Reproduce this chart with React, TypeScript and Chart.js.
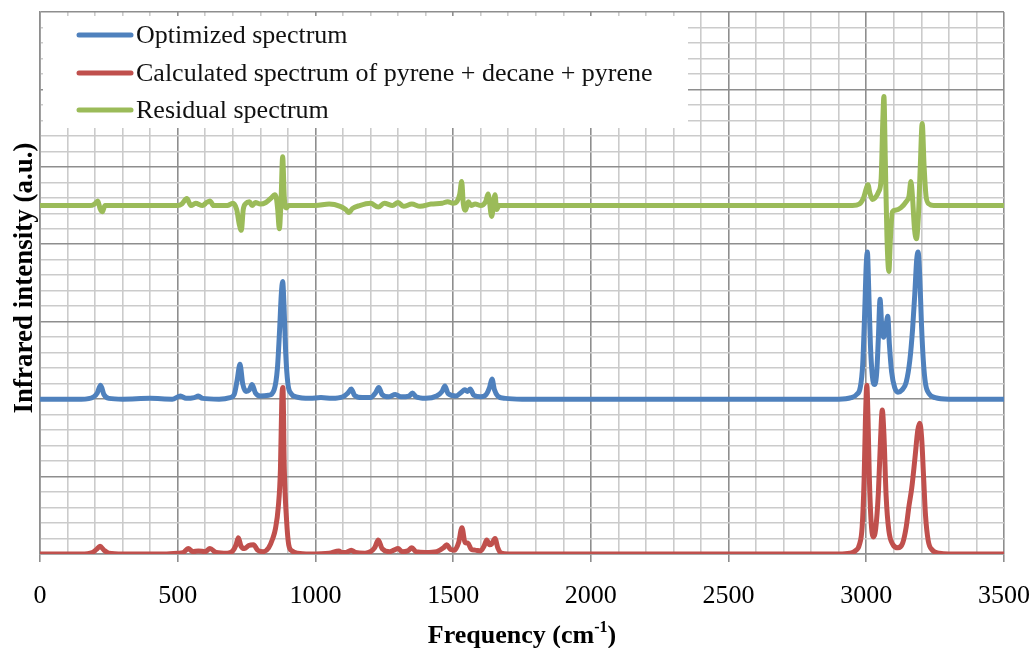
import React, { useEffect, useRef } from 'react';
import { Chart, registerables } from 'chart.js';

Chart.register(...registerables);

// Wavenumber grid (cm-1) and intensities (a.u.) of each spectrum.
// Optimized spectrum sits on a baseline offset of 2, the residual on 4.5.
const optimizedFreq = [
  0, 150, 195, 208, 220, 232, 250, 300, 400, 480, 510, 530, 560, 575, 590, 650, 690, 705, 716, 726,
  736, 748, 760, 770, 782, 800, 830, 850, 862, 870, 876, 881, 886, 892, 900, 912, 930, 980, 1020, 1060,
  1100, 1118, 1130, 1142, 1170, 1200, 1218, 1230, 1242, 1265, 1290, 1310, 1340, 1352, 1365, 1400, 1440, 1460, 1470, 1482,
  1510, 1530, 1542, 1552, 1562, 1575, 1600, 1620, 1632, 1641, 1650, 1662, 1690, 1750, 2500, 2900, 2945, 2965, 2978, 2987,
  2994, 3000, 3004, 3009, 3015, 3022, 3030, 3038, 3044, 3050, 3056, 3063, 3070, 3078, 3084, 3092, 3103, 3115, 3130, 3145,
  3158, 3168, 3176, 3183, 3188, 3194, 3200, 3207, 3215, 3228, 3250, 3300, 3500,
];
const optimizedIntensity = [
  2, 2, 2.03, 2.08, 2.18, 2.06, 2.01, 2, 2.01, 2, 2.04, 2.01, 2.02, 2.04, 2.01, 2.0, 2.02, 2.06, 2.25, 2.45,
  2.2, 2.1, 2.12, 2.19, 2.08, 2.04, 2.05, 2.12, 2.4, 2.9, 3.35, 3.52, 3.2, 2.6, 2.2, 2.07, 2.03, 2.01, 2.02, 2.01,
  2.03, 2.08, 2.13, 2.05, 2.02, 2.02, 2.08, 2.15, 2.06, 2.03, 2.06, 2.03, 2.04, 2.08, 2.03, 2.01, 2.04, 2.1, 2.17, 2.07,
  2.04, 2.09, 2.12, 2.1, 2.13, 2.05, 2.03, 2.06, 2.15, 2.26, 2.12, 2.04, 2.01, 2, 2, 2, 2.02, 2.06, 2.15, 2.45,
  3.1, 3.75, 3.9, 3.4, 2.7, 2.3, 2.19, 2.35, 2.8, 3.29, 2.95, 2.8, 2.9, 3.07, 2.7, 2.35, 2.15, 2.09, 2.12, 2.22,
  2.5, 2.9, 3.35, 3.8, 3.9, 3.6, 3.0, 2.5, 2.2, 2.07, 2.02, 2.0, 2.0,
];

const calculatedFreq = [
  0, 150, 190, 205, 218, 232, 250, 300, 450, 500, 520, 538, 555, 575, 600, 617, 640, 680, 700, 712,
  720, 730, 742, 758, 775, 790, 810, 830, 845, 855, 865, 873, 878, 882, 887, 895, 903, 915, 935, 980,
  1050, 1085, 1095, 1110, 1130, 1145, 1180, 1215, 1228, 1242, 1270, 1285, 1300, 1315, 1335, 1350, 1365, 1400, 1440, 1465,
  1477, 1490, 1505, 1520, 1532, 1543, 1554, 1566, 1580, 1600, 1612, 1622, 1632, 1640, 1652, 1662, 1675, 1700, 2000, 2500,
  2900, 2940, 2960, 2975, 2985, 2992, 2997, 3002, 3006, 3011, 3017, 3025, 3034, 3044, 3052, 3058, 3064, 3072, 3082, 3097,
  3115, 3132, 3145, 3155, 3165, 3177, 3187, 3194, 3201, 3208, 3215, 3225, 3240, 3265, 3300, 3500,
];
const calculatedIntensity = [
  0, 0, 0.02, 0.06, 0.1, 0.05, 0.01, 0, 0, 0.01, 0.02, 0.07, 0.03, 0.04, 0.03, 0.07, 0.02, 0.01, 0.04, 0.12,
  0.21, 0.1, 0.07, 0.11, 0.12, 0.05, 0.03, 0.08, 0.2, 0.33, 0.6, 1.1, 2.0, 2.15, 1.1, 0.45, 0.12, 0.04, 0.01, 0,
  0.01, 0.04, 0.02, 0.02, 0.05, 0.02, 0.01, 0.08, 0.18, 0.07, 0.03, 0.05, 0.07, 0.03, 0.04, 0.08, 0.03, 0.02, 0.03, 0.08,
  0.12, 0.06, 0.05, 0.15, 0.34, 0.15, 0.14, 0.06, 0.05, 0.04, 0.1, 0.18, 0.12, 0.13, 0.2, 0.08, 0.01, 0, 0, 0,
  0, 0.01, 0.04, 0.12, 0.35, 0.95, 1.75, 2.18, 1.8, 1.0, 0.45, 0.22, 0.32, 0.8, 1.5, 1.86, 1.55, 0.75, 0.3, 0.12,
  0.08, 0.14, 0.35, 0.62, 0.85, 1.25, 1.6, 1.69, 1.5, 1.0, 0.5, 0.17, 0.05, 0.01, 0, 0,
];

const residualFreq = [
  0, 180, 198, 210, 218, 226, 236, 300, 500, 515, 533, 548, 565, 590, 605, 617, 630, 680, 700, 714,
  724, 731, 738, 748, 760, 770, 782, 800, 820, 840, 852, 858, 863, 869, 875, 881, 887, 894, 903, 950,
  1000, 1050, 1090, 1110, 1122, 1134, 1160, 1200, 1228, 1250, 1280, 1300, 1320, 1350, 1380, 1420, 1460, 1480, 1500, 1515,
  1524, 1531, 1537, 1545, 1555, 1565, 1580, 1600, 1618, 1627, 1640, 1652, 1658, 1666, 1700, 2500, 2950, 2975, 2990, 3000,
  3006, 3013, 3022, 3032, 3045, 3054, 3060, 3064, 3069, 3075, 3082, 3088, 3095, 3105, 3125, 3145, 3155, 3162, 3168, 3175,
  3182, 3189, 3196, 3203, 3210, 3217, 3228, 3245, 3500,
];
const residualIntensity = [
  4.5, 4.5, 4.52, 4.56, 4.46, 4.42, 4.5, 4.5, 4.5, 4.52, 4.59, 4.5, 4.53, 4.5, 4.54, 4.56, 4.5, 4.5, 4.53, 4.45,
  4.25, 4.18, 4.45, 4.53, 4.55, 4.5, 4.54, 4.52, 4.54, 4.6, 4.64, 4.6, 4.45, 4.2, 4.55, 5.13, 4.6, 4.47, 4.5, 4.5,
  4.5, 4.52, 4.49, 4.45, 4.41, 4.46, 4.5, 4.53, 4.48, 4.53, 4.5, 4.54, 4.49, 4.52, 4.49, 4.52, 4.53, 4.55, 4.53, 4.56,
  4.65, 4.81, 4.52, 4.44, 4.55, 4.5, 4.52, 4.5, 4.55, 4.65, 4.36, 4.64, 4.45, 4.5, 4.5, 4.5, 4.5, 4.52, 4.6, 4.72,
  4.77, 4.66, 4.58, 4.6, 4.68, 4.85, 5.6, 5.91, 5.1, 4.1, 3.65, 4.1, 4.42, 4.44, 4.47, 4.55, 4.62, 4.81, 4.6, 4.2,
  4.07, 4.35, 5.0, 5.56, 5.0, 4.62, 4.52, 4.5, 4.5,
];

const seriesNames = [
  'Optimized spectrum',
  'Calculated spectrum of pyrene + decane + pyrene',
  'Residual spectrum',
];
const seriesColors = ['#4F81BD', '#C0504D', '#9BBB59'];

const xMin = 0;
const xMax = 3500;
const xMinorStep = 100;
const xMajorStep = 500;
const yMin = 0;
const yMax = 7;
const yMinorStep = 0.2;

const xTitle = 'Frequency (cm';
const xTitleSup = '-1';
const xTitleEnd = ')';
const yTitle = 'Infrared intensity (a.u.)';

const SERIF = '"Liberation Serif", "Times New Roman", serif';
const MAJOR_GRID = '#8e8e8e';
const MINOR_GRID = '#cbcbcb';

const toPoints = (xs: number[], ys: number[]) => xs.map((x, i) => ({ x, y: ys[i] }));

const isXMajor = (v: number) => Math.abs(v / xMajorStep - Math.round(v / xMajorStep)) < 1e-6;
const isYMajor = (v: number) => Math.abs(v - Math.round(v)) < 1e-6;

// Legend box and axis titles drawn on top of the plot.
const overlayPlugin = {
  id: 'overlay',
  afterDraw(chart: any) {
    const { ctx, chartArea } = chart;
    ctx.save();

    // Legend panel in the upper-left corner of the plot
    const boxLeft = chartArea.left + 3;
    const boxTop = chartArea.top + 4;
    const boxRight = 688;
    const boxBottom = 128;
    ctx.fillStyle = '#ffffff';
    ctx.fillRect(boxLeft, boxTop, boxRight - boxLeft, boxBottom - boxTop);

    const rowY = [35, 73, 110];
    ctx.font = `26px ${SERIF}`;
    ctx.textBaseline = 'middle';
    ctx.textAlign = 'left';
    seriesNames.forEach((name, i) => {
      ctx.strokeStyle = seriesColors[i];
      ctx.lineWidth = 5;
      ctx.lineCap = 'round';
      ctx.beginPath();
      ctx.moveTo(79, rowY[i]);
      ctx.lineTo(131, rowY[i]);
      ctx.stroke();
      ctx.fillStyle = '#111';
      ctx.fillText(name, 136, rowY[i] + 1);
    });

    // X axis title with superscript
    ctx.fillStyle = '#000';
    ctx.textBaseline = 'alphabetic';
    const mainFont = `bold 26px ${SERIF}`;
    const supFont = `bold 16px ${SERIF}`;
    ctx.font = mainFont;
    const w1 = ctx.measureText(xTitle).width;
    const w3 = ctx.measureText(xTitleEnd).width;
    ctx.font = supFont;
    const w2 = ctx.measureText(xTitleSup).width;
    const cx = (chartArea.left + chartArea.right) / 2;
    let x0 = cx - (w1 + w2 + w3) / 2;
    const baseY = 643;
    ctx.font = mainFont;
    ctx.fillText(xTitle, x0, baseY);
    x0 += w1;
    ctx.font = supFont;
    ctx.fillText(xTitleSup, x0, baseY - 11);
    x0 += w2;
    ctx.font = mainFont;
    ctx.fillText(xTitleEnd, x0, baseY);

    // Y axis title, rotated
    ctx.translate(32, (chartArea.top + chartArea.bottom) / 2 - 5);
    ctx.rotate(-Math.PI / 2);
    ctx.textAlign = 'center';
    ctx.font = `bold 27px ${SERIF}`;
    ctx.fillText(yTitle, 0, 0);

    ctx.restore();
  },
};

export default function App() {
  const canvasRef = useRef<HTMLCanvasElement | null>(null);

  useEffect(() => {
    const canvas = canvasRef.current;
    if (!canvas) return;

    const lineStyle = {
      borderWidth: 5,
      pointRadius: 0,
      pointHoverRadius: 0,
      fill: false,
      cubicInterpolationMode: 'monotone' as const,
    };

    const chart = new Chart(canvas, {
      type: 'line',
      data: {
        datasets: [
          {
            label: seriesNames[0],
            data: toPoints(optimizedFreq, optimizedIntensity),
            borderColor: seriesColors[0],
            order: 3,
            ...lineStyle,
          },
          {
            label: seriesNames[1],
            data: toPoints(calculatedFreq, calculatedIntensity),
            borderColor: seriesColors[1],
            order: 2,
            ...lineStyle,
          },
          {
            label: seriesNames[2],
            data: toPoints(residualFreq, residualIntensity),
            borderColor: seriesColors[2],
            order: 1,
            ...lineStyle,
          },
        ],
      },
      options: {
        responsive: false,
        devicePixelRatio: 1,
        animation: false,
        events: [],
        layout: { padding: { left: 40, top: 12, right: 30, bottom: 0 } },
        plugins: {
          legend: { display: false },
          tooltip: { enabled: false },
          title: { display: false },
        },
        scales: {
          x: {
            type: 'linear',
            min: xMin,
            max: xMax,
            afterFit: (scale: any) => {
              scale.height = 94;
              scale.paddingLeft = 0;
              scale.paddingRight = 0;
            },
            ticks: {
              stepSize: xMinorStep,
              autoSkip: false,
              maxRotation: 0,
              padding: 19,
              color: '#000',
              font: { family: SERIF, size: 26 },
              callback: (v: any) => (isXMajor(Number(v)) ? String(v) : ''),
            },
            grid: {
              drawTicks: true,
              tickLength: 8,
              color: (c: any) => (isXMajor(c.tick.value) ? MAJOR_GRID : MINOR_GRID),
              lineWidth: 1.6,
              tickColor: (c: any) => (isXMajor(c.tick.value) ? MAJOR_GRID : 'rgba(0,0,0,0)'),
              tickWidth: 1.6,
            },
            border: { display: true, color: MAJOR_GRID, width: 1.6 },
          },
          y: {
            type: 'linear',
            min: yMin,
            max: yMax,
            afterFit: (scale: any) => {
              scale.width = 0;
            },
            ticks: { stepSize: yMinorStep, display: false },
            grid: {
              drawTicks: false,
              color: (c: any) => (isYMajor(c.tick.value) ? MAJOR_GRID : MINOR_GRID),
              lineWidth: 1.6,
            },
            border: { display: true, color: MAJOR_GRID, width: 1.6 },
          },
        },
      },
      plugins: [overlayPlugin],
    });

    return () => chart.destroy();
  }, []);

  return (
    <div style={{ position: 'fixed', left: 0, top: 0, width: 1034, height: 648, background: '#fff' }}>
      <canvas ref={canvasRef} width={1034} height={648} style={{ display: 'block' }} />
    </div>
  );
}
